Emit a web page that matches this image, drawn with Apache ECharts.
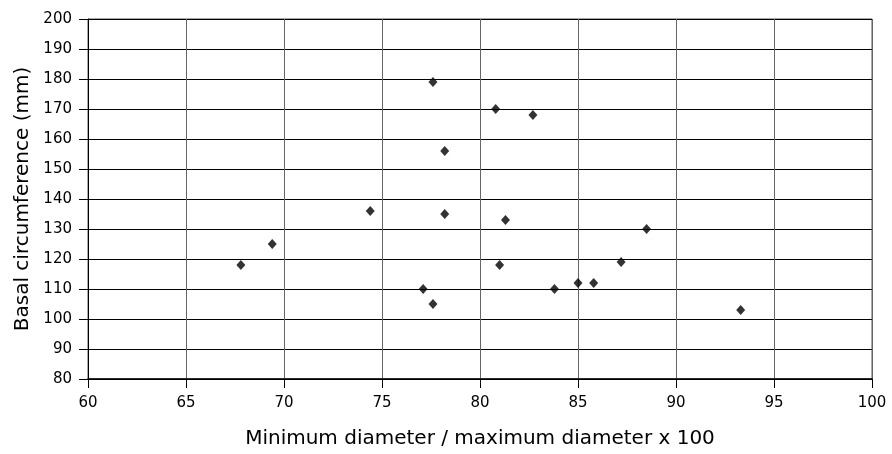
<!DOCTYPE html>
<html>
<head>
<meta charset="utf-8">
<script src="https://cdn.jsdelivr.net/npm/echarts@6/dist/echarts.min.js"></script>
<style>
html,body{margin:0;padding:0;background:#fff;}
#chart{width:892px;height:454px;}
</style>
</head>
<body>
<div id="chart"></div>
<script>
var ratioValues = [67.8, 69.4, 74.4, 77.1, 77.6, 77.6, 78.2, 78.2, 80.8, 81.0, 81.3, 82.7, 83.8, 85.0, 85.8, 87.2, 88.5, 93.3];
var circumferenceValues = [118, 125, 136, 110, 105, 179, 156, 135, 170, 118, 133, 168, 110, 112, 112, 119, 130, 103];
var xTicks = [60, 65, 70, 75, 80, 85, 90, 95, 100];
var yTicks = [80, 90, 100, 110, 120, 130, 140, 150, 160, 170, 180, 190, 200];
var xTitle = 'Minimum diameter / maximum diameter x 100';
var yTitle = 'Basal circumference (mm)';

var points = ratioValues.map(function (x, i) { return [x, circumferenceValues[i]]; });
var font = 'DejaVu Sans';

var chart = echarts.init(document.getElementById('chart'), null, {renderer: 'canvas'});
chart.setOption({
  animation: false,
  backgroundColor: '#ffffff',
  grid: {
    left: 88, right: 20, top: 19, bottom: 74,
    show: true, borderColor: '#555', borderWidth: 1, backgroundColor: 'transparent'
  },
  xAxis: {
    type: 'value',
    min: xTicks[0], max: xTicks[xTicks.length - 1], interval: 5,
    name: xTitle, nameLocation: 'middle', nameGap: 50,
    nameTextStyle: {fontFamily: font, fontSize: 20, color: '#000'},
    axisLine: {show: true, onZero: false, lineStyle: {color: '#000', width: 1.5}},
    axisTick: {show: true, length: 9, lineStyle: {color: '#000'}},
    axisLabel: {margin: 17, fontFamily: font, fontSize: 15, color: '#000'},
    splitLine: {show: true, lineStyle: {color: '#666', width: 1}}
  },
  yAxis: {
    type: 'value',
    min: yTicks[0], max: yTicks[yTicks.length - 1], interval: 10,
    name: yTitle, nameLocation: 'middle', nameGap: 55,
    nameTextStyle: {fontFamily: font, fontSize: 20, color: '#000'},
    axisLine: {show: true, onZero: false, lineStyle: {color: '#000', width: 1}},
    axisTick: {show: true, length: 9, lineStyle: {color: '#000'}},
    axisLabel: {margin: 16, fontFamily: font, fontSize: 15, color: '#000'},
    splitLine: {show: true, lineStyle: {color: '#000', width: 1}}
  },
  series: [{
    type: 'scatter',
    data: points,
    symbol: 'diamond',
    symbolSize: [9, 10],
    itemStyle: {color: '#000'}
  }]
});
</script>
</body>
</html>
